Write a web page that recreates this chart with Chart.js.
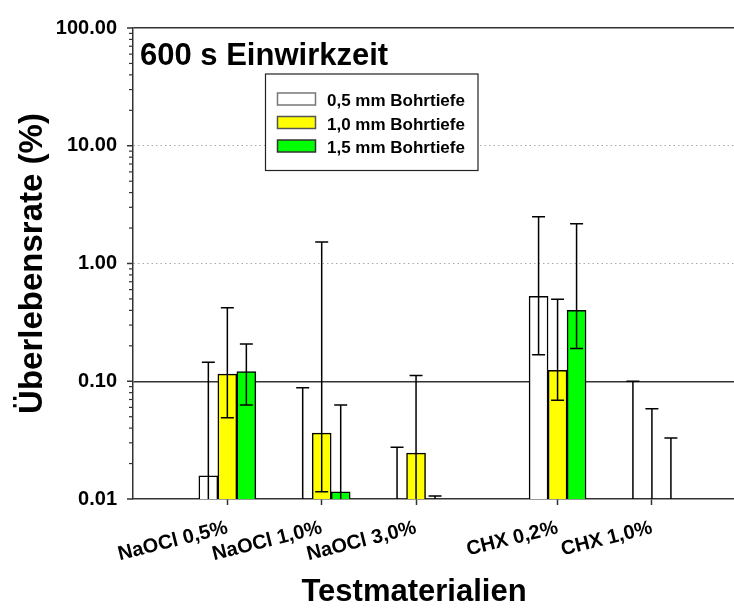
<!DOCTYPE html>
<html><head><meta charset="utf-8">
<script src="https://cdn.jsdelivr.net/npm/chart.js@4/dist/chart.umd.min.js"></script>
<style>html,body{margin:0;padding:0;background:#fff;overflow:hidden}</style>
</head><body>
<canvas id="c" width="734" height="610"></canvas>
<script>
// ---- data ----
const categories = ['NaOCl 0,5%', 'NaOCl 1,0%', 'NaOCl 3,0%', 'CHX 0,2%', 'CHX 1,0%'];
const categoryPositions = [1, 2, 3, 4.5, 5.5];
const seriesLabels = ['0,5 mm Bohrtiefe', '1,0 mm Bohrtiefe', '1,5 mm Bohrtiefe'];

const depth05 = [0.0157, null, null, 0.525, null];
const depth05Upper = [0.145, 0.088, 0.0275, 2.5, 0.10];
const depth05Lower = [null, null, null, 0.168, null];

const depth10 = [0.115, 0.0363, 0.0245, 0.124, null];
const depth10Upper = [0.42, 1.52, 0.112, 0.496, 0.0585];
const depth10Lower = [0.049, 0.0115, null, 0.069, null];

const depth15 = [0.121, 0.0115, null, 0.40, null];
const depth15Upper = [0.207, 0.063, 0.0106, 2.18, 0.033];
const depth15Lower = [0.063, null, null, 0.19, null];

const yTickLabels = ['0.01', '0.10', '1.00', '10.00', '100.00'];
const chartTitle = '600 s Einwirkzeit';
const xTitle = 'Testmaterialien';
const yTitle = 'Überlebensrate (%)';

// ---- styling ----
const FONT = '"Liberation Sans", Arial, Helvetica, sans-serif';
const fills = ['#ffffff', '#ffff00', '#00ff00'];
const swatchBorders = ['#777777', '#555555', '#333333'];
const series = [depth05, depth10, depth15];
const uppers = [depth05Upper, depth10Upper, depth15Upper];
const lowers = [depth05Lower, depth10Lower, depth15Lower];
const BAR_W = 19;

const majorVals = yTickLabels.map(Number);
const near = (v, m) => Math.abs(Math.log10(v) - Math.log10(m)) < 1e-9;
const isMajor = v => majorVals.some(m => near(v, m));

const datasets = series.map((s, i) => ({
  label: seriesLabels[i],
  data: categoryPositions.map((x, j) => ({ x: x, y: s[j] })),
  backgroundColor: fills[i],
  borderColor: '#000000',
  borderWidth: 1.5,
  barThickness: BAR_W
}));

const errorBars = {
  id: 'errorBars',
  afterDatasetsDraw(chart) {
    const { ctx, chartArea: ca, scales: { x, y } } = chart;
    ctx.save();
    ctx.beginPath();
    ctx.rect(ca.left, ca.top - 2, ca.right - ca.left, ca.bottom - ca.top + 2);
    ctx.clip();
    ctx.strokeStyle = '#000';
    ctx.lineWidth = 1.5;
    series.forEach((s, i) => {
      const meta = chart.getDatasetMeta(i);
      categoryPositions.forEach((pos, j) => {
        const up = uppers[i][j];
        if (up == null) return;
        const lo = lowers[i][j];
        let px = meta.data[j] ? meta.data[j].x : NaN;
        if (!isFinite(px)) px = x.getPixelForValue(pos) + (i - 1) * BAR_W;
        const yt = y.getPixelForValue(up);
        const yb = lo != null ? y.getPixelForValue(lo) : ca.bottom;
        ctx.beginPath();
        ctx.moveTo(px, yt); ctx.lineTo(px, yb);
        ctx.moveTo(px - 6.5, yt); ctx.lineTo(px + 6.5, yt);
        if (lo != null) { ctx.moveTo(px - 6.5, yb); ctx.lineTo(px + 6.5, yb); }
        ctx.stroke();
      });
    });
    ctx.restore();
  }
};

const decorations = {
  id: 'decorations',
  afterDraw(chart) {
    const { ctx, chartArea: ca, scales: { y } } = chart;
    ctx.save();
    ctx.strokeStyle = '#333';
    y.ticks.forEach(t => {
      const py = y.getPixelForValue(t.value);
      const len = isMajor(t.value) ? 6 : 4;
      ctx.lineWidth = isMajor(t.value) ? 1.5 : 1.2;
      ctx.beginPath();
      ctx.moveTo(ca.left - len, py); ctx.lineTo(ca.left, py);
      ctx.stroke();
    });
    ctx.fillStyle = '#000';
    ctx.font = 'bold 31px ' + FONT;
    ctx.textAlign = 'left';
    ctx.textBaseline = 'alphabetic';
    ctx.fillText(chartTitle, ca.left + 7, 65);
    ctx.textAlign = 'center';
    ctx.fillText(xTitle, 414, 601);
    const bx = 265.5, by = 74, bw = 212.5, bh = 96.5;
    ctx.fillStyle = '#fff';
    ctx.fillRect(bx, by, bw, bh);
    ctx.strokeStyle = '#222';
    ctx.lineWidth = 1.2;
    ctx.strokeRect(bx, by, bw, bh);
    ctx.font = 'bold 17px ' + FONT;
    ctx.textAlign = 'left';
    seriesLabels.forEach((lab, i) => {
      const cy = 99 + i * 23.5;
      ctx.fillStyle = fills[i];
      ctx.fillRect(277.5, cy - 6, 38, 12);
      ctx.strokeStyle = swatchBorders[i];
      ctx.lineWidth = 1.5;
      ctx.strokeRect(277.5, cy - 6, 38, 12);
      ctx.fillStyle = '#000';
      ctx.fillText(lab, 327, cy + 7);
    });
    ctx.restore();
  }
};

new Chart(document.getElementById('c'), {
  type: 'bar',
  data: { datasets },
  options: {
    responsive: false,
    animation: false,
    devicePixelRatio: 1,
    layout: { padding: { top: 23, right: 0, bottom: 0, left: 0 } },
    plugins: { legend: { display: false }, tooltip: { enabled: false }, title: { display: false } },
    scales: {
      x: {
        type: 'linear',
        offset: false,
        min: 0,
        max: 6.37,
        afterBuildTicks: s => { s.ticks = categoryPositions.map(v => ({ value: v })); },
        afterFit: s => { s.height = 111; },
        ticks: {
          autoSkip: false,
          minRotation: 14,
          maxRotation: 14,
          padding: 11,
          color: '#000',
          font: { family: FONT, size: 20, weight: 'bold' },
          callback: v => categories[categoryPositions.indexOf(v)]
        },
        grid: { offset: false, drawOnChartArea: false, drawTicks: true, tickLength: 6, tickColor: '#333', tickWidth: 1.5 },
        border: { display: true, color: '#333', width: 1.5 }
      },
      y: {
        type: 'logarithmic',
        min: 0.01,
        max: 100,
        afterBuildTicks: s => {
          const t = [];
          for (let d = -2; d <= 1; d++) for (let m = 1; m <= 9; m++) t.push({ value: m * Math.pow(10, d) });
          t.push({ value: 100 });
          s.ticks = t;
        },
        afterFit: s => { s.width = 133; },
        ticks: {
          autoSkip: false,
          padding: 16,
          color: '#000',
          font: { family: FONT, size: 20, weight: 'bold' },
          callback: v => { const k = majorVals.findIndex(m => near(v, m)); return k >= 0 ? yTickLabels[k] : ''; }
        },
        grid: {
          drawTicks: false,
          color: c => {
            const v = c.tick && c.tick.value;
            if (v == null) return 'rgba(0,0,0,0)';
            if (near(v, 100) || near(v, 0.1)) return '#333';
            if (near(v, 1) || near(v, 10)) return '#aaa';
            return 'rgba(0,0,0,0)';
          },
          lineWidth: c => {
            const v = c.tick && c.tick.value;
            if (v == null) return 0;
            if (near(v, 100) || near(v, 0.1)) return 1.5;
            if (near(v, 1) || near(v, 10)) return 1;
            return 0;
          }
        },
        border: {
          display: true, color: '#333', width: 1.5,
          dash: c => { const v = c.tick && c.tick.value; return (v != null && (near(v, 1) || near(v, 10))) ? [1.5, 3] : []; }
        },
        title: {
          display: true,
          text: yTitle,
          color: '#000',
          font: { family: FONT, size: 33, weight: 'bold' },
          padding: { top: 13, bottom: 0 }
        }
      }
    }
  },
  plugins: [errorBars, decorations]
});
</script>
</body></html>
